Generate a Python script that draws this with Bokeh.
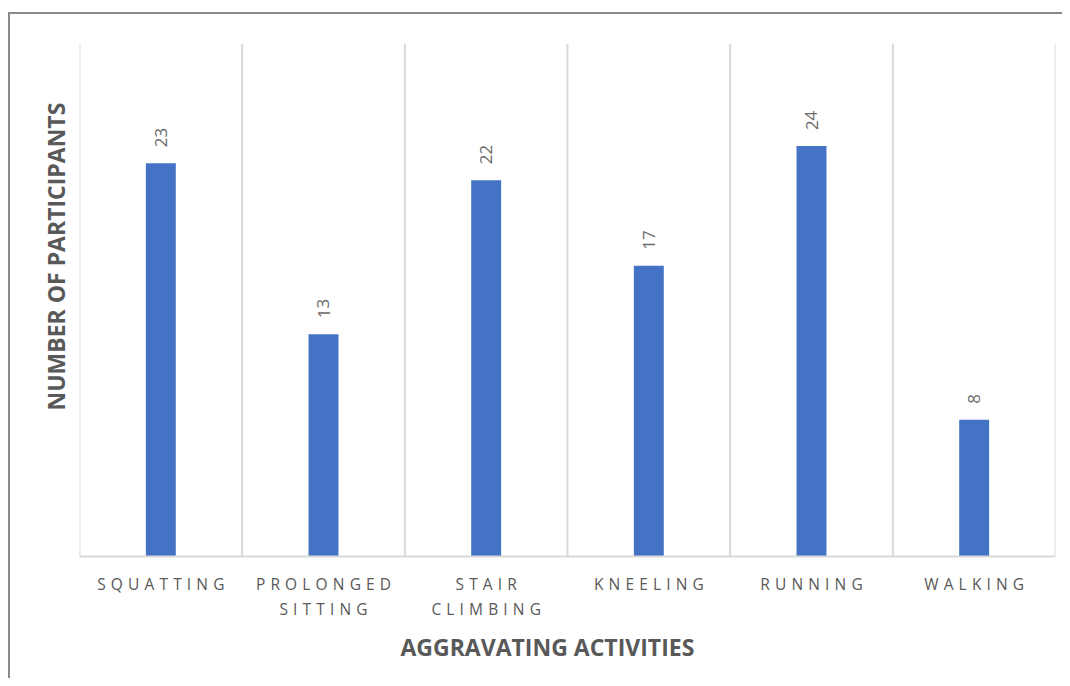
from bokeh.plotting import figure
from bokeh.models import ColumnDataSource, Range1d, FactorRange, Title
from bokeh.transform import dodge
from bokeh.core.properties import value
from bokeh.embed import file_html
from bokeh.resources import INLINE

categories = ["SQUATTING", "PROLONGED SITTING", "STAIR CLIMBING", "KNEELING", "RUNNING", "WALKING"]
tick_labels = ["SQUATTING", "PROLONGED\nSITTING", "STAIR\nCLIMBING", "KNEELING", "RUNNING", "WALKING"]
participants = [23, 13, 22, 17, 24, 8]
y_max = 30
x_title = "AGGRAVATING ACTIVITIES"
y_title = "NUMBER OF PARTICIPANTS"

SP = "\u2004"
def spaced(s):
    return "\n".join(SP.join(list(line)) for line in s.split("\n"))

factors = [spaced(t) for t in tick_labels]
source = ColumnDataSource(dict(cat=factors, name=categories, val=participants,
                               lbl=[str(v) for v in participants]))

p = figure(x_range=FactorRange(*factors, range_padding=0), y_range=Range1d(0, y_max),
           frame_width=976, frame_height=513, output_backend="svg", toolbar_location=None,
           min_border_left=69, min_border_right=7, min_border_top=29, min_border_bottom=122)
p.styles = {"border-top": "2px solid #8a8a8a", "border-left": "2px solid #8a8a8a",
            "margin-top": "12px", "margin-left": "8px"}
p.outline_line_color = None
p.background_fill_color = "white"
p.border_fill_color = "white"

# bars
p.vbar(x="cat", top="val", width=0.184, source=source, color="#4472C4", line_color=None)

# category separators (vertical gridlines)
p.segment(x0=dodge("cat", 0.5, range=p.x_range), x1=dodge("cat", 0.5, range=p.x_range),
          y0=0, y1=y_max, source=source, line_color="#d9d9d9", line_width=2)
first = ColumnDataSource(dict(cat=factors[:1]))
p.segment(x0=dodge("cat", -0.5, range=p.x_range), x1=dodge("cat", -0.5, range=p.x_range),
          y0=0, y1=y_max, source=first, line_color="#d9d9d9", line_width=2)

# data labels
p.text(x="cat", y="val", text="lbl", source=source, angle=1.5708, text_align="left",
       text_baseline="middle", y_offset=-16, text_font=value("Open Sans"),
       text_font_size="17px", text_color="#6b6b6b")

p.xgrid.visible = False
p.ygrid.visible = False

xa = p.xaxis[0]
xa.major_label_text_font = "Open Sans"
xa.major_label_text_font_size = "15.5px"
xa.major_label_text_color = "#595959"
xa.major_label_text_line_height = 1.14
xa.major_label_standoff = 10
xa.major_tick_line_color = None
xa.minor_tick_line_color = None
xa.axis_line_color = "#d9d9d9"
xa.axis_line_width = 2

p.yaxis.visible = False

xt = Title(text=x_title, align="left", offset=321, standoff=12,
           text_font="Open Sans", text_font_style="bold", text_font_size="23px",
           text_color="#595959")
p.add_layout(xt, "below")
yt = Title(text=y_title, align="left", offset=146, standoff=16,
           text_font="Open Sans", text_font_style="bold", text_font_size="23px",
           text_color="#595959")
p.add_layout(yt, "left")

open("out.html", "w").write(file_html(p, INLINE))
